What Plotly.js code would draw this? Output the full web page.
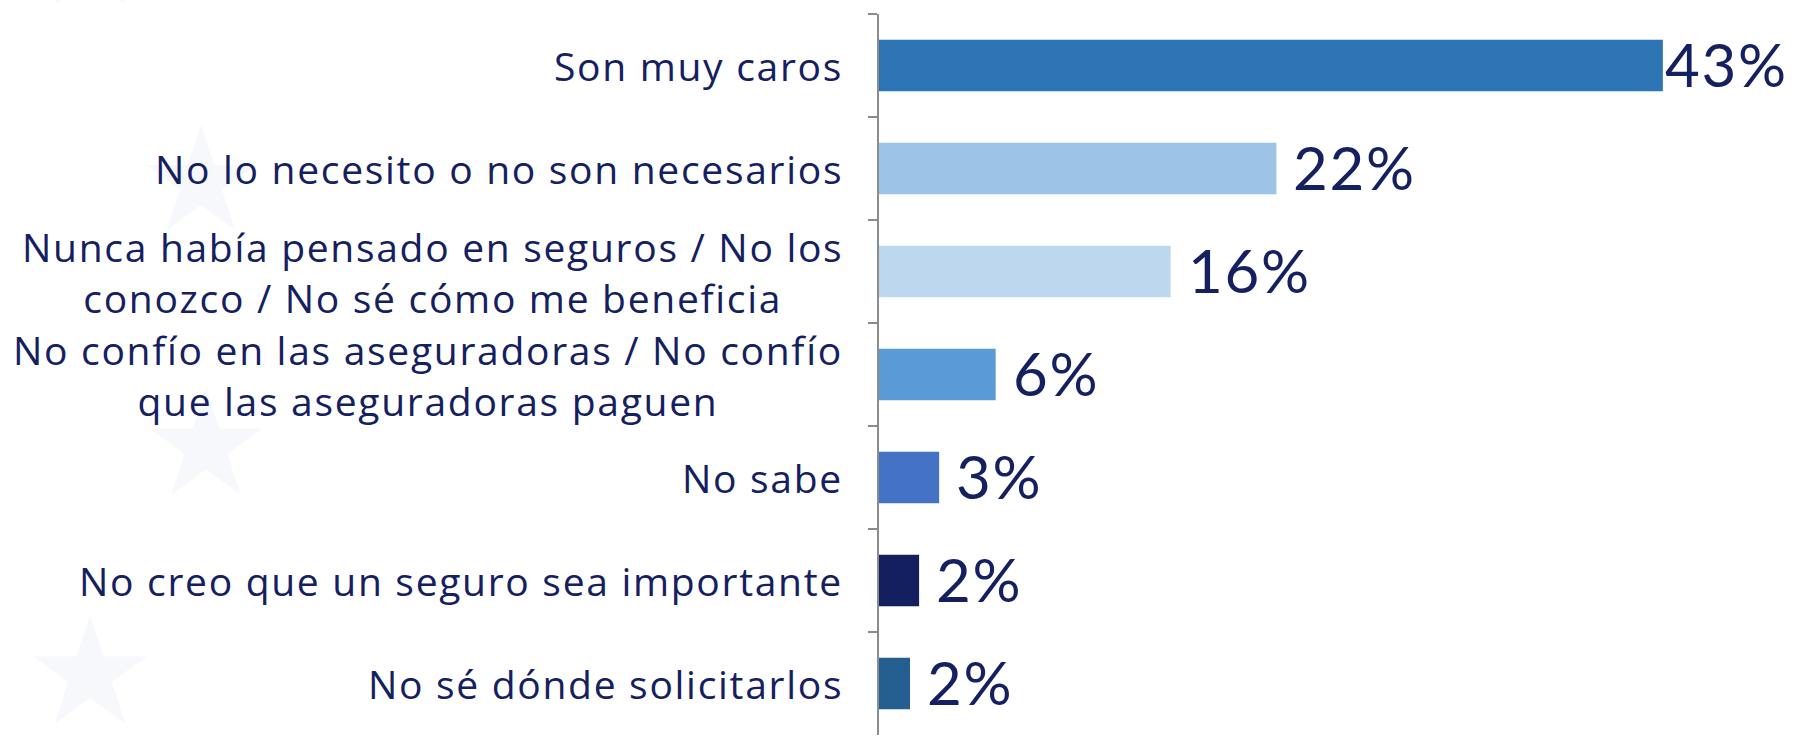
<!DOCTYPE html>
<html>
<head>
<meta charset="utf-8">
<script src="https://cdn.plot.ly/plotly-3.0.1.min.js"></script>
<style>
html,body{margin:0;padding:0;background:#fff;}
#chart{width:1797px;height:736px;}
text.annotation-text{letter-spacing:2.6px;}
text.annotation-text[style*="Open Sans"]{letter-spacing:1.7px;}
</style>
</head>
<body>
<div id="chart"></div>
<script>
// ---- data ----
var categories = [
  "Son muy caros",
  "No lo necesito o no son necesarios",
  "Nunca había pensado en seguros / No los<br>conozco / No sé cómo me beneficia",
  "No confío en las aseguradoras / No confío<br>que las aseguradoras paguen",
  "No sabe",
  "No creo que un seguro sea importante",
  "No sé dónde solicitarlos"
];
var values = [43, 21.8, 16, 6.4, 3.3, 2.2, 1.7];
var valueLabels = ["43%", "22%", "16%", "6%", "3%", "2%", "2%"];
var barColors = ["#2E75B6", "#9DC3E6", "#BDD7EE", "#5B9BD5", "#4472C4", "#131F5E", "#255E91"];

// ---- layout constants ----
var W = 1797, H = 736;
var L = 879, T = 14, B = 1;
var plotW = W - L, plotH = H - T - B;
var navy = "#14205F";
var labelFont = "'Open Sans', Lato, sans-serif";
var valueFont = "Lato, 'Open Sans', sans-serif";
var xMax = 50.36;

var trace = {
  type: "bar",
  orientation: "h",
  x: values,
  y: categories,
  marker: {color: barColors, line: {width: 0}},
  hoverinfo: "none",
  cliponaxis: false
};

var annotations = [];
categories.forEach(function (c, i) {
  annotations.push({
    xref: "paper", yref: "y", x: 0, y: c, xanchor: "right", yanchor: "middle",
    xshift: -34, text: c, showarrow: false, align: "center",
    font: {family: labelFont, size: 39, color: navy}
  });
});
categories.forEach(function (c, i) {
  var overflow = values[i] / xMax > 0.8;
  annotations.push({
    xref: "x", yref: "y", x: values[i], y: c, xanchor: "left", yanchor: "middle",
    xshift: overflow ? 0 : 15, yshift: 2, text: valueLabels[i], showarrow: false,
    font: {family: valueFont, size: 60, color: navy}
  });
});

// decorative faint stars (background watermark)
function px2paper(px, py) { return [(px - L) / plotW, 1 - (py - T) / plotH]; }
function starPath(cx, cy, R) {
  var r = R * 0.382, d = "";
  for (var k = 0; k < 10; k++) {
    var ang = -Math.PI / 2 + k * Math.PI / 5;
    var rad = k % 2 === 0 ? R : r;
    var p = px2paper(cx + rad * Math.cos(ang), cy + rad * Math.sin(ang));
    d += (k === 0 ? "M" : "L") + p[0].toFixed(5) + "," + p[1].toFixed(5);
  }
  return d + "Z";
}
var starDefs = [[90, -44, 60], [201, 183, 58], [206, 447, 59], [90, 675, 60]];
var shapes = starDefs.map(function (s) {
  return {type: "path", xref: "paper", yref: "paper", path: starPath(s[0], s[1], s[2]),
    fillcolor: "#F6F8FB", line: {width: 0}, layer: "below"};
});

var layout = {
  width: W, height: H,
  margin: {l: L, r: 0, t: T, b: B, pad: 0},
  paper_bgcolor: "#ffffff", plot_bgcolor: "rgba(0,0,0,0)",
  showlegend: false,
  bargap: 0.5,
  xaxis: {range: [0, xMax], visible: false, fixedrange: true},
  yaxis: {
    type: "category", autorange: "reversed",
    showticklabels: false, showgrid: false, zeroline: false,
    showline: true, linecolor: "#8C8C8C", linewidth: 2,
    ticks: "outside", tickson: "boundaries", ticklen: 9, tickcolor: "#8C8C8C", tickwidth: 2,
    fixedrange: true
  },
  annotations: annotations,
  shapes: shapes
};

Plotly.newPlot("chart", [trace], layout, {displayModeBar: false, staticPlot: true});
</script>
</body>
</html>
